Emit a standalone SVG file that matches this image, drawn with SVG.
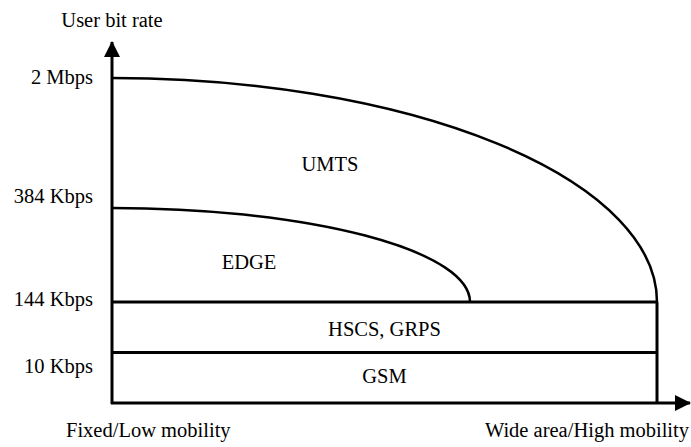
<svg xmlns="http://www.w3.org/2000/svg" width="691" height="447" viewBox="0 0 691 447">
<style>
text{font-family:"Liberation Serif","Times New Roman",serif;font-size:20.5px;fill:#000}
.ax{stroke:#000;stroke-width:3;fill:none}
.ln{stroke:#000;stroke-width:3;fill:none}
.cv{stroke:#000;stroke-width:2.5;fill:none}
</style>
<defs>
<marker id="ah" viewBox="0 0 16 16" refX="15" refY="8" markerWidth="16" markerHeight="16" markerUnits="userSpaceOnUse" orient="auto">
<path d="M0,0 L16,8 L0,16 Z" fill="#000"/>
</marker>
</defs>
<g id="connectors">
<line class="ax" x1="112" y1="404" x2="112" y2="42" marker-end="url(#ah)"/>
<line class="ax" x1="111" y1="403" x2="690" y2="403" marker-end="url(#ah)"/>
<line class="ln" x1="112" y1="302" x2="657" y2="302"/>
<line class="ln" x1="112" y1="352.5" x2="657" y2="352.5"/>
<line class="ln" x1="657" y1="302" x2="657" y2="403"/>
<path class="cv" d="M112,78 A545,224 0 0 1 657,302"/>
<path class="cv" d="M112,208 A358,94 0 0 1 470,302"/>
</g>
<g id="axis-labels">
<text x="112" y="27" text-anchor="middle">User bit rate</text>
<text x="66" y="437">Fixed/Low mobility</text>
<text x="689" y="437" text-anchor="end">Wide area/High mobility</text>
</g>
<g id="rates">
<text x="93" y="84" text-anchor="end">2 Mbps</text>
<text x="93" y="203" text-anchor="end">384 Kbps</text>
<text x="93" y="306" text-anchor="end">144 Kbps</text>
<text x="93" y="373" text-anchor="end">10 Kbps</text>
</g>
<g id="UMTS"><text x="330" y="171" text-anchor="middle">UMTS</text></g>
<g id="EDGE"><text x="249" y="269" text-anchor="middle">EDGE</text></g>
<g id="HSCS"><text x="384.5" y="336" text-anchor="middle">HSCS, GRPS</text></g>
<g id="GSM"><text x="384.5" y="383" text-anchor="middle">GSM</text></g>
</svg>
